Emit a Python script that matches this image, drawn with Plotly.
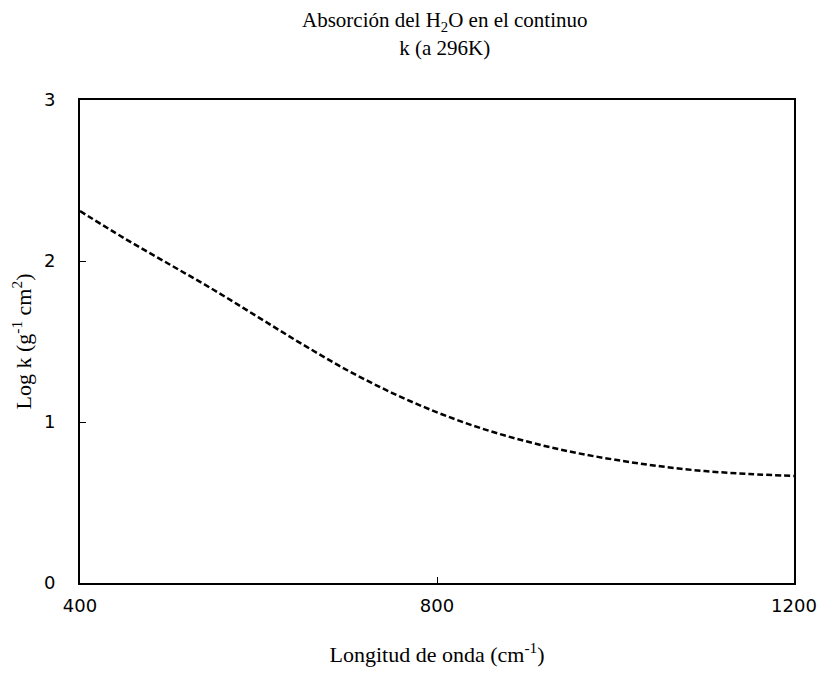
import plotly.graph_objects as go

wavenumber = [400, 450, 500, 550, 600, 650, 700, 750, 800, 850, 900, 950, 1000, 1050, 1100, 1150, 1200]
log_k = [2.31, 2.14, 1.98, 1.82, 1.65, 1.48, 1.32, 1.18, 1.06, 0.96, 0.88, 0.815, 0.765, 0.725, 0.695, 0.677, 0.665]

x_ticks = [400, 800, 1200]
y_ticks = [0, 1, 2, 3]

fig = go.Figure()
fig.add_trace(go.Scatter(
    x=wavenumber, y=log_k, mode="lines",
    line=dict(color="black", width=2.5, dash="6px,3px", shape="spline"),
    showlegend=False,
))

serif = "Liberation Serif"
sans = "DejaVu Sans"

fig.update_layout(
    width=821, height=667,
    margin=dict(l=72, r=32, t=92, b=90),
    paper_bgcolor="white", plot_bgcolor="white",
    title=dict(
        text="Absorción del H<sub>2</sub>O en el continuo<br>k (a 296K)",
        x=0.532, xanchor="center", y=0.971, yanchor="top",
        font=dict(family=serif, size=21, color="black"),
    ),
    xaxis=dict(
        range=[400, 1200], tickvals=x_ticks, ticktext=[str(v) for v in x_ticks],
        ticks="inside", ticklen=6, tickcolor="black", tickwidth=1,
        showline=True, linecolor="black", linewidth=2, mirror=True,
        showgrid=False, zeroline=False, ticklabelstandoff=5,
        tickfont=dict(family=sans, size=18, color="black"),
        title=dict(text="Longitud de onda (cm<sup>-1</sup>)", standoff=32,
                   font=dict(family=serif, size=22, color="black")),
    ),
    yaxis=dict(
        range=[0, 3], tickvals=y_ticks, ticktext=[str(v) for v in y_ticks],
        ticks="inside", ticklen=6, tickcolor="black", tickwidth=1,
        showline=True, linecolor="black", linewidth=2, mirror=True,
        showgrid=False, zeroline=False, ticklabelstandoff=19,
        tickfont=dict(family=sans, size=18, color="black"),
        title=dict(text="Log k (g<sup>-1</sup> cm<sup>2</sup>)", standoff=8,
                   font=dict(family=serif, size=22, color="black")),
    ),
)

fig.write_html("out.html")
